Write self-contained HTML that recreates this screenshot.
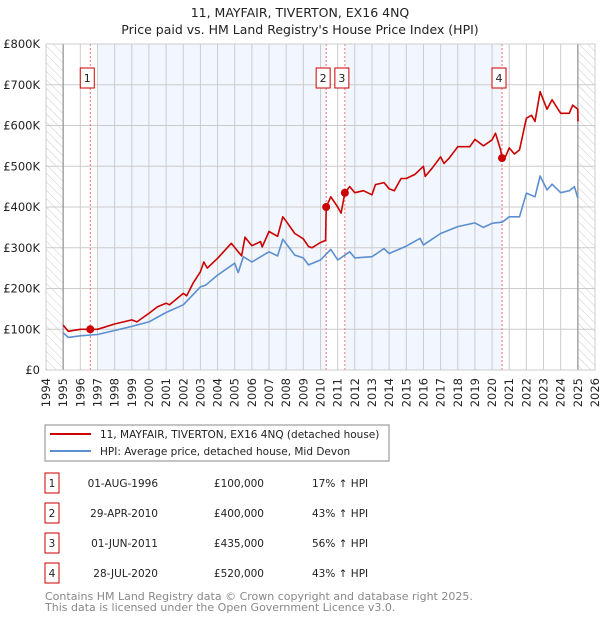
<!DOCTYPE html>
<html><head><meta charset="utf-8"><style>
body{margin:0;background:#fff;}
svg{display:block;font-family:"DejaVu Sans","Liberation Sans",sans-serif;}
</style></head><body>
<svg id="c" width="600" height="620" viewBox="0 0 600 620">
<defs><pattern id="h" width="6" height="6" patternUnits="userSpaceOnUse" patternTransform="rotate(-45)"><line x1="0" y1="0" x2="0" y2="6" stroke="#ccc" stroke-width="1"/></pattern></defs>
<text x="300" y="17" text-anchor="middle" font-size="12.5" fill="#222">11, MAYFAIR, TIVERTON, EX16 4NQ</text>
<text x="300" y="34" text-anchor="middle" font-size="12.5" fill="#222">Price paid vs. HM Land Registry's House Price Index (HPI)</text>
<g id="plot"></g>
<g>
<rect x="45" y="425" width="344" height="36" fill="#fff" stroke="#888"/>
<line x1="50" y1="434" x2="91" y2="434" stroke="#cc0000" stroke-width="2"/>
<text x="100" y="438" font-size="10.5" fill="#222">11, MAYFAIR, TIVERTON, EX16 4NQ (detached house)</text>
<line x1="50" y1="451" x2="91" y2="451" stroke="#5b8fd0" stroke-width="2"/>
<text x="100" y="455" font-size="10.5" fill="#222">HPI: Average price, detached house, Mid Devon</text>
</g>
<g id="tbl" font-size="10.5" fill="#222"></g>
<text x="45" y="600" font-size="11" fill="#888">Contains HM Land Registry data © Crown copyright and database right 2025.</text>
<text x="45" y="611" font-size="11" fill="#888">This data is licensed under the Open Government Licence v3.0.</text>
</svg>
<script>
const hpiYears=[1995.0,1995.3,1996,1997,1998,1999,2000,2001,2002,2003,2003.3,2004,2005,2005.2,2005.5,2006,2007,2007.5,2007.8,2008.5,2009,2009.3,2010,2010.6,2011,2011.7,2012,2013,2013.7,2014,2015,2015.8,2016,2017,2018,2019,2019.5,2020,2020.6,2021,2021.6,2022,2022.5,2022.8,2023.2,2023.5,2024,2024.5,2024.8,2025];
const hpiValues=[91,80,84,87,97,107,118,141,160,204,208,233,262,239,278,265,290,280,321,282,275,258,270,296,270,290,275,278,298,286,304,323,307,335,352,361,350,360,363,376,376,434,425,476,442,456,435,440,450,422];
const priceYears=[1995.0,1995.3,1996,1996.58,1997,1998,1999,1999.3,2000,2000.5,2001,2001.2,2002,2002.2,2002.6,2003,2003.2,2003.4,2004,2004.8,2005.2,2005.4,2005.6,2006,2006.5,2006.6,2007,2007.5,2007.8,2008,2008.5,2009,2009.3,2009.5,2010,2010.3,2010.33,2010.6,2011,2011.2,2011.42,2011.7,2012,2012.5,2013,2013.2,2013.7,2014,2014.3,2014.7,2015,2015.5,2016,2016.1,2016.5,2017,2017.2,2017.5,2018,2018.7,2019,2019.5,2020,2020.2,2020.5,2020.58,2020.8,2021,2021.3,2021.6,2022,2022.3,2022.5,2022.8,2023.2,2023.5,2024,2024.5,2024.7,2025,2025.01];
const priceValues=[110,95,100,100,100,113,123,118,139,155,164,160,188,182,215,241,265,250,274,311,290,280,326,305,315,302,340,328,376,365,335,322,303,300,313,318,400,425,400,385,435,450,435,440,430,455,460,445,440,470,470,480,500,475,495,523,507,520,548,548,566,550,565,581,540,520,525,545,530,540,618,625,610,683,640,663,630,630,650,640,610];
const saleYears=[1996.58,2010.33,2011.42,2020.58];
const saleValues=[100,400,435,520];
const saleLabels=["1","2","3","4"];
const saleDates=["01-AUG-1996","29-APR-2010","01-JUN-2011","28-JUL-2020"];
const salePrices=["£100,000","£400,000","£435,000","£520,000"];
const saleHpi=["17% ↑ HPI","43% ↑ HPI","56% ↑ HPI","43% ↑ HPI"];
const yTicks=[0,100,200,300,400,500,600,700,800];
const yTickLabels=["£0","£100K","£200K","£300K","£400K","£500K","£600K","£700K","£800K"];
const xTicks=[1994,1995,1996,1997,1998,1999,2000,2001,2002,2003,2004,2005,2006,2007,2008,2009,2010,2011,2012,2013,2014,2015,2016,2017,2018,2019,2020,2021,2022,2023,2024,2025,2026];

const X0=46,X1=595,Y0=370,Y1=44;
const xs=y=>X0+(y-1994)/32*(X1-X0);
const ys=v=>Y0-v/800*(Y0-Y1);
const NS="http://www.w3.org/2000/svg";
const plot=document.getElementById('plot');
function mk(tag,attrs,parent){const e=document.createElementNS(NS,tag);for(const k in attrs)e.setAttribute(k,attrs[k]);(parent||plot).appendChild(e);return e;}
let e;
e=mk('rect',{x:xs(1997),y:Y1,width:xs(saleYears[1])-xs(1997),height:Y0-Y1,fill:'#f2f6fe'});


e=mk('rect',{x:xs(saleYears[2]),y:Y1,width:xs(saleYears[3])-xs(saleYears[2]),height:Y0-Y1,fill:'#f2f6fe'});


e=mk('rect',{x:X0,y:Y1,width:xs(1995)-X0,height:Y0-Y1,fill:'url(#h)'});


e=mk('rect',{x:xs(2025),y:Y1,width:X1-xs(2025),height:Y0-Y1,fill:'url(#h)'});


xTicks.forEach(t=>{
 e=mk('line',{x1:xs(t),x2:xs(t),y1:Y1,y2:Y0,stroke:'#ccc','stroke-width':1});
 
 
 e=mk('text',{x:0,y:0,transform:`translate(${xs(t)+4},${Y0+8}) rotate(-90)`,'text-anchor':'end','font-size':11.5,fill:'#222'});
 e.textContent=t;
 
 
});
yTicks.forEach((t,i)=>{
 e=mk('line',{x1:X0,x2:X1,y1:ys(t),y2:ys(t),stroke:'#ccc','stroke-width':1});
 
 
 e=mk('text',{x:40,y:ys(t)+4,'text-anchor':'end','font-size':11.5,fill:'#222'});
 e.textContent=yTickLabels[i];
 
 
});
[1995,2025].forEach(t=>{
 e=mk('line',{x1:xs(t),x2:xs(t),y1:Y1,y2:Y0,stroke:'#999','stroke-width':1.3});
 
 
});
saleYears.forEach((s,i)=>{
 e=mk('line',{x1:xs(s),x2:xs(s),y1:Y1,y2:Y0,stroke:'#f07070','stroke-width':1,'stroke-dasharray':'2,2'});
 
 
 const cx=xs(s)-3;
 e=mk('rect',{x:cx-7,y:68,width:14,height:20,fill:'#fff',stroke:'#cc0000','stroke-width':1});
 
 
 e=mk('text',{x:cx,y:82,'text-anchor':'middle','font-size':11,fill:'#222'});
 e.textContent=saleLabels[i];
 
 
});
function line(xa,va,col,name){
 const d=xa.map((x,i)=>(i?'L':'M')+xs(x).toFixed(1)+','+ys(va[i]).toFixed(1)).join('');
 const p=mk('path',{d:d,fill:'none',stroke:col,'stroke-width':1.6,'stroke-linejoin':'round'});
 
 
}
line(hpiYears,hpiValues,'#5b8fd0','hpi-line');
line(priceYears,priceValues,'#cc0000','price-line');
saleYears.forEach((s,i)=>{
 e=mk('circle',{cx:xs(s),cy:ys(saleValues[i]),r:4,fill:'#cc0000'});
 
 
});
e=mk('rect',{x:X0,y:Y1,width:X1-X0,height:Y0-Y1,fill:'none',stroke:'#ccc'});


const tbl=document.getElementById('tbl');
saleLabels.forEach((l,i)=>{
 const y=483+i*30;
 e=mk('rect',{x:45,y:y-10,width:14,height:20,fill:'#fff',stroke:'#cc0000'},tbl);
 
 
 e=mk('text',{x:52,y:y+4,'text-anchor':'middle'},tbl);e.textContent=l;
 
 
 e=mk('text',{x:158,y:y+4,'text-anchor':'end'},tbl);e.textContent=saleDates[i];
 
 
 e=mk('text',{x:264,y:y+4,'text-anchor':'end'},tbl);e.textContent=salePrices[i];
 
 
 e=mk('text',{x:312,y:y+4},tbl);e.textContent=saleHpi[i];
 
 
});
</script>
</body></html>
